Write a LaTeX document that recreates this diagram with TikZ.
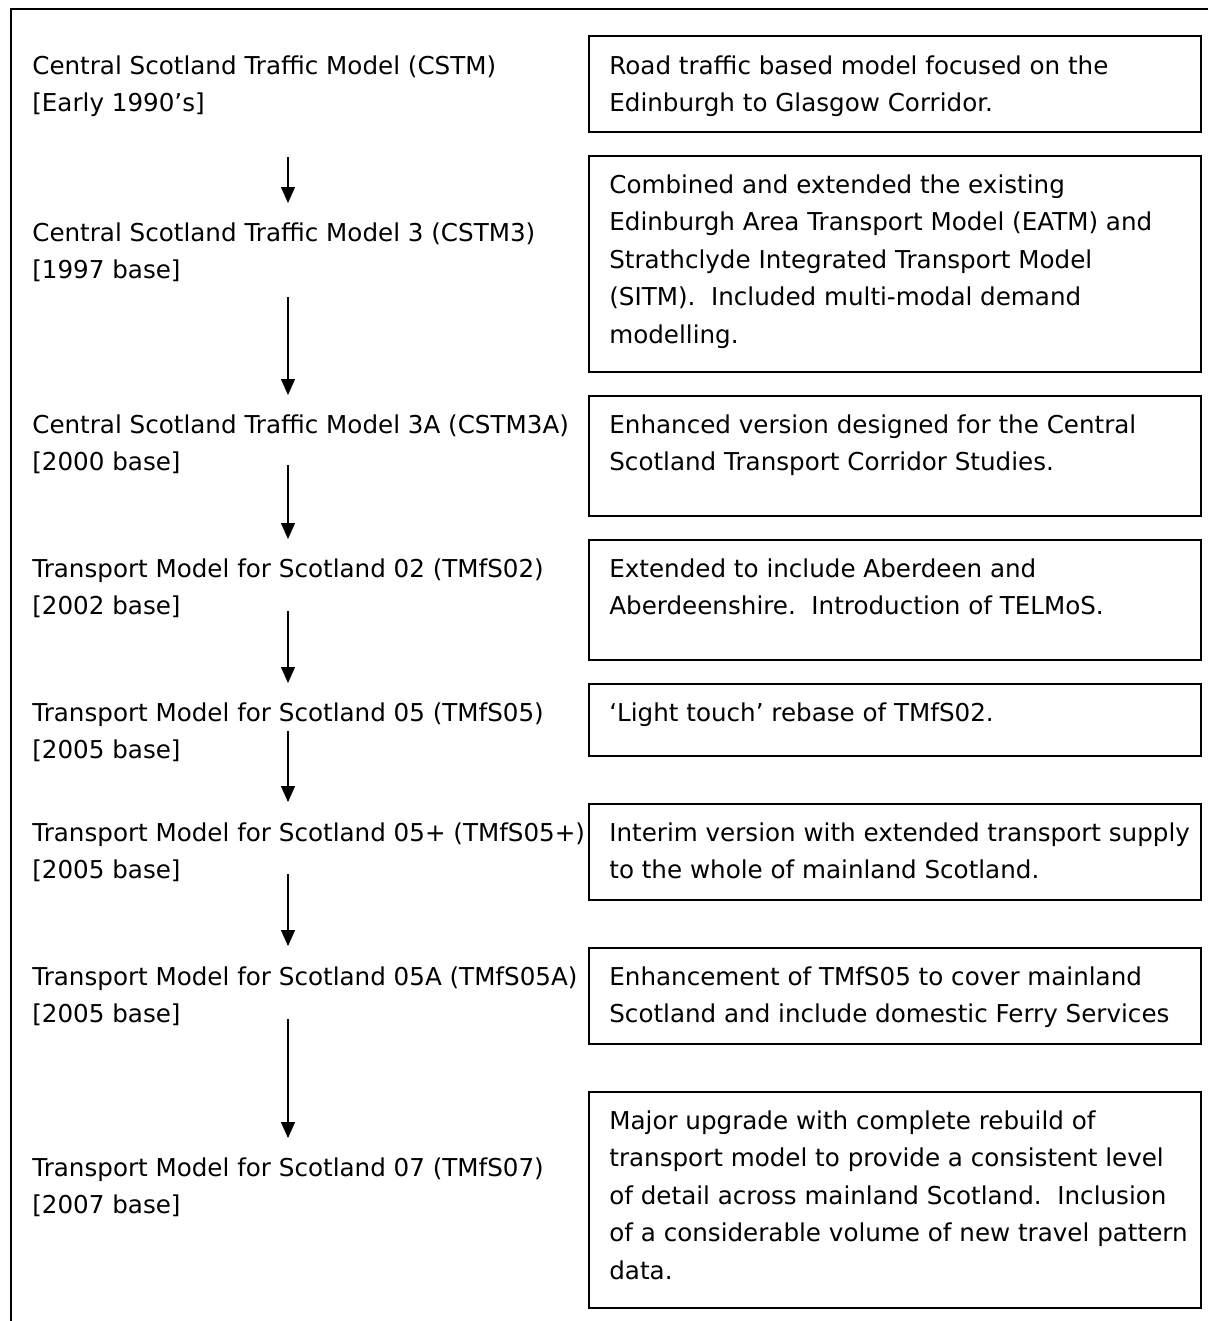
\documentclass[tikz,border=0pt]{standalone}
\usepackage{fontspec}
\setmainfont{DejaVu Sans}
\usetikzlibrary{arrows.meta}
\tikzset{
  modeltxt/.style={anchor=base west,align=left,inner sep=0pt,font=\fontsize{14}{21.34}\selectfont},
  descbox/.style={draw,line width=1.1pt,anchor=north west,minimum width=12.24cm,inner sep=0pt},
  steparrow/.style={-{Triangle[length=0.32cm,width=0.28cm]},line width=0.8pt}
}
\begin{document}
\begin{tikzpicture}[x=0.02cm,y=-0.02cm]
  \useasboundingbox (0,0) rectangle (1208,1321);
  \coordinate (ftop) at (1208,9);
  \coordinate (fcorner) at (11,9);
  \coordinate (fbot) at (11,1321);
  \draw[line width=1.1pt] (ftop) -- (fcorner) -- (fbot);

  \node[modeltxt] (m1) at (32,111.5) {Central Scotland Traffic Model (CSTM)\\{[}Early 1990’s]};
  \node[modeltxt] (m2) at (32,278.5) {Central Scotland Traffic Model 3 (CSTM3)\\{[}1997 base]};
  \node[modeltxt] (m3) at (32,470.5) {Central Scotland Traffic Model 3A (CSTM3A)\\{[}2000 base]};
  \node[modeltxt] (m4) at (32,614.5) {Transport Model for Scotland 02 (TMfS02)\\{[}2002 base]};
  \node[modeltxt] (m5) at (32,758.5) {Transport Model for Scotland 05 (TMfS05)\\{[}2005 base]};
  \node[modeltxt] (m6) at (32,878.5) {Transport Model for Scotland 05+ (TMfS05+)\\{[}2005 base]};
  \node[modeltxt] (m7) at (32,1022.5) {Transport Model for Scotland 05A (TMfS05A)\\{[}2005 base]};
  \node[modeltxt] (m8) at (32,1213.5) {Transport Model for Scotland 07 (TMfS07)\\{[}2007 base]};

  \node[descbox,minimum height=1.92cm] (b1) at (588,35) {};
  \node[descbox,minimum height=4.32cm] (b2) at (588,155) {};
  \node[descbox,minimum height=2.4cm] (b3) at (588,395) {};
  \node[descbox,minimum height=2.4cm] (b4) at (588,539) {};
  \node[descbox,minimum height=1.44cm] (b5) at (588,683) {};
  \node[descbox,minimum height=1.92cm] (b6) at (588,803) {};
  \node[descbox,minimum height=1.92cm] (b7) at (588,947) {};
  \node[descbox,minimum height=4.32cm] (b8) at (588,1091) {};

  \node[modeltxt] (d1) at (609,111.5) {Road traffic based model focused on the\\Edinburgh to Glasgow Corridor.};
  \node[modeltxt] (d2) at (609,343) {Combined and extended the existing\\Edinburgh Area Transport Model (EATM) and\\Strathclyde Integrated Transport Model\\(SITM).\ \ Included multi-modal demand\\modelling.};
  \node[modeltxt] (d3) at (609,470.5) {Enhanced version designed for the Central\\Scotland Transport Corridor Studies.};
  \node[modeltxt] (d4) at (609,614.5) {Extended to include Aberdeen and\\Aberdeenshire.\ \ Introduction of TELMoS.};
  \node[modeltxt] (d5) at (609,721) {‘Light touch’ rebase of TMfS02.};
  \node[modeltxt] (d6) at (609,878.5) {Interim version with extended transport supply\\to the whole of mainland Scotland.};
  \node[modeltxt] (d7) at (609,1022.5) {Enhancement of TMfS05 to cover mainland\\Scotland and include domestic Ferry Services};
  \node[modeltxt] (d8) at (609,1279) {Major upgrade with complete rebuild of\\transport model to provide a consistent level\\of detail across mainland Scotland.\ \ Inclusion\\of a considerable volume of new travel pattern\\data.};

  \coordinate (a1s) at (288,157); \coordinate (a1e) at (288,203);
  \coordinate (a2s) at (288,297); \coordinate (a2e) at (288,395);
  \coordinate (a3s) at (288,465); \coordinate (a3e) at (288,539);
  \coordinate (a4s) at (288,611); \coordinate (a4e) at (288,683);
  \coordinate (a5s) at (288,731); \coordinate (a5e) at (288,802);
  \coordinate (a6s) at (288,874); \coordinate (a6e) at (288,946);
  \coordinate (a7s) at (288,1019); \coordinate (a7e) at (288,1138);
  \draw[steparrow] (a1s) -- (a1e);
  \draw[steparrow] (a2s) -- (a2e);
  \draw[steparrow] (a3s) -- (a3e);
  \draw[steparrow] (a4s) -- (a4e);
  \draw[steparrow] (a5s) -- (a5e);
  \draw[steparrow] (a6s) -- (a6e);
  \draw[steparrow] (a7s) -- (a7e);
\end{tikzpicture}
\end{document}
